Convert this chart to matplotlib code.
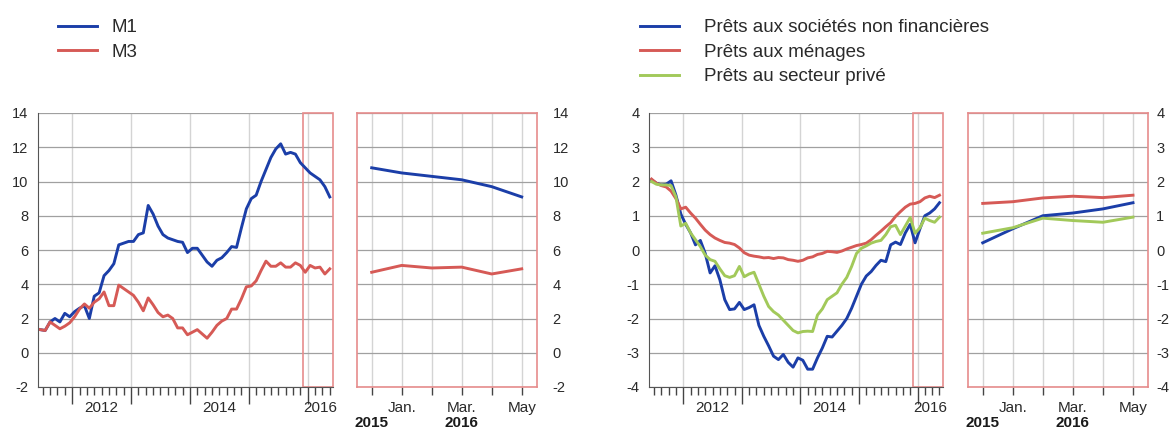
import numpy as np
import pandas as pd
import matplotlib
matplotlib.use("Agg")
import matplotlib.pyplot as plt

plt.rcParams["font.family"] = ["Liberation Sans", "DejaVu Sans"]
plt.rcParams["axes.unicode_minus"] = False

# monthly observations, Jun 2011 - May 2016 (plotted mid-month)
dates = pd.date_range("2011-06-01", "2016-05-01", freq="MS")
t = dates.year + (dates.month - 0.5) / 12

m1 = [1.35, 1.3, 1.8, 2.0, 1.8, 2.3, 2.1, 2.4, 2.6, 2.75,
      2.0, 3.3, 3.5, 4.5, 4.8, 5.2, 6.3, 6.4, 6.5, 6.5,
      6.9, 7.0, 8.6, 8.1, 7.4, 6.9, 6.7, 6.6, 6.5, 6.45,
      5.85, 6.1, 6.1, 5.7, 5.3, 5.05, 5.4, 5.55, 5.85, 6.2,
      6.15, 7.3, 8.4, 9.0, 9.2, 10.0, 10.7, 11.4, 11.9, 12.2,
      11.6, 11.7, 11.6, 11.1, 10.8, 10.5, 10.3, 10.1, 9.7, 9.1]
m3 = [1.35, 1.3, 1.8, 1.6, 1.4, 1.55, 1.75, 2.1, 2.55, 2.85,
      2.6, 2.95, 3.15, 3.55, 2.75, 2.75, 3.95, 3.75, 3.55, 3.35,
      2.95, 2.45, 3.2, 2.8, 2.35, 2.1, 2.2, 2.0, 1.45, 1.45,
      1.05, 1.2, 1.35, 1.1, 0.85, 1.2, 1.6, 1.85, 2.0, 2.55,
      2.55, 3.15, 3.85, 3.9, 4.2, 4.8, 5.35, 5.05, 5.05, 5.25,
      5.0, 5.0, 5.25, 5.1, 4.7, 5.1, 4.95, 5.0, 4.6, 4.9]

loans_nfc = [2.05, 1.95, 1.9, 1.92, 2.02, 1.6, 1.05, 0.75, 0.5, 0.15,
             0.28, -0.1, -0.67, -0.46, -0.87, -1.45, -1.74, -1.72, -1.53, -1.74,
             -1.68, -1.6, -2.2, -2.52, -2.8, -3.1, -3.2, -3.05, -3.28, -3.42,
             -3.15, -3.22, -3.48, -3.48, -3.15, -2.86, -2.52, -2.54, -2.37, -2.2,
             -2.0, -1.7, -1.35, -1.0, -0.76, -0.63, -0.45, -0.3, -0.34, 0.15,
             0.23, 0.16, 0.5, 0.75, 0.21, 0.62, 1.0, 1.08, 1.2, 1.38]
loans_hh = [2.07, 1.95, 1.88, 1.84, 1.72, 1.5, 1.2, 1.25, 1.08, 0.93,
            0.75, 0.58, 0.45, 0.35, 0.28, 0.22, 0.2, 0.16, 0.06, -0.08,
            -0.15, -0.18, -0.2, -0.23, -0.22, -0.25, -0.22, -0.23, -0.28, -0.3,
            -0.33, -0.3, -0.23, -0.2, -0.13, -0.1, -0.04, -0.05, -0.07, -0.03,
            0.03, 0.08, 0.13, 0.16, 0.2, 0.3, 0.43, 0.55, 0.68, 0.8,
            0.98, 1.12, 1.25, 1.34, 1.36, 1.41, 1.52, 1.57, 1.53, 1.6]
loans_priv = [2.0, 1.92, 1.9, 1.9, 1.88, 1.55, 0.7, 0.78, 0.5, 0.3,
              0.1, -0.15, -0.28, -0.33, -0.55, -0.75, -0.8, -0.75, -0.48, -0.78,
              -0.7, -0.65, -1.0, -1.35, -1.65, -1.8, -1.9, -2.05, -2.2, -2.35,
              -2.42, -2.38, -2.37, -2.38, -1.9, -1.72, -1.45, -1.35, -1.25, -1.0,
              -0.8, -0.48, -0.1, 0.05, 0.12, 0.2, 0.25, 0.28, 0.45, 0.68,
              0.72, 0.45, 0.7, 0.95, 0.49, 0.65, 0.93, 0.86, 0.81, 0.96]

zoom_ticklabels = ["", "Jan.", "", "Mar.", "", "May"]
zoom_years = {0: "2015", 3: "2016"}
year_labels = {2012.5: "2012", 2014.5: "2014", 2016.22: "2016"}

BLUE = "#1b3ea8"
RED = "#d65a56"
GREEN = "#a2c95a"
FRAME = "#e68c8c"
TXT = "#2a2a2a"
W, H = 1169, 429
XMIN, XMAX = 2011.42, 2016.43


def add_axes_px(fig, x0, y0, x1, y1):
    return fig.add_axes([x0 / W, 1 - y1 / H, (x1 - x0) / W, (y1 - y0) / H])


def style_main(ax, yticks):
    ax.set_xlim(XMIN, XMAX)
    ax.set_ylim(yticks[0], yticks[-1])
    ax.set_yticks(yticks)
    ax.set_xticks(np.arange(2012, 2017))
    ax.set_xticks([v for v in np.arange(2011.5, 2016.4, 0.125) if v % 1], minor=True)
    ax.set_axisbelow(True)
    ax.grid(axis="y", color="#a0a0a0", lw=0.9)
    ax.grid(axis="x", which="major", color="#d4d4d4", lw=1)
    ax.tick_params(axis="x", which="major", length=12, width=1, color="#444444",
                   labelbottom=False)
    ax.tick_params(axis="x", which="minor", length=6, width=1, color="#444444")
    ax.tick_params(axis="y", length=0, pad=7, labelsize=10.5, labelcolor=TXT)
    for s in ["top", "right"]:
        ax.spines[s].set_visible(False)
    for s in ["left", "bottom"]:
        ax.spines[s].set_color("#555555")
    ax.axvspan(2015.917, XMAX, fill=False, ec=FRAME, lw=1.2, clip_on=False)
    for x, s in year_labels.items():
        ax.text(x, -0.077, s, transform=ax.get_xaxis_transform(), ha="center",
                va="center", fontsize=11, color=TXT)


def style_zoom(ax, yticks, pad):
    ax.set_xlim(-0.5, 5.5)
    ax.set_ylim(yticks[0], yticks[-1])
    ax.set_yticks(yticks)
    ax.set_xticks(range(6))
    ax.set_axisbelow(True)
    ax.grid(axis="y", color="#a0a0a0", lw=0.9)
    ax.grid(axis="x", color="#d4d4d4", lw=1)
    ax.tick_params(axis="x", length=6, width=1, color="#444444", labelbottom=False)
    ax.tick_params(axis="y", left=False, labelleft=False, labelright=True, pad=pad,
                   labelsize=10.5, labelcolor=TXT)
    for lab in ax.get_yticklabels():
        lab.set_horizontalalignment("left")
    for s in ax.spines.values():
        s.set_color(FRAME)
        s.set_linewidth(1.2)
    tr = ax.get_xaxis_transform()
    for i, s in enumerate(zoom_ticklabels):
        if s:
            ax.text(i, -0.077, s, transform=tr, ha="center", va="center",
                    fontsize=11, color=TXT)
    for i, s in zoom_years.items():
        ax.text(i, -0.132, s, transform=tr, ha="center", va="center",
                fontsize=11, fontweight="bold", color="#1a1a1a")


def add_legend(ax, x_px, textpad):
    ax.legend(loc="upper left", bbox_to_anchor=(x_px / W, 1 - 19 / H),
              bbox_transform=fig.transFigure, frameon=False, fontsize=13.5,
              handlelength=2.08, handletextpad=textpad, labelspacing=0.4,
              borderpad=0, borderaxespad=0, labelcolor=TXT)


fig = plt.figure(figsize=(W / 100, H / 100), dpi=100)

# money aggregates
ax1 = add_axes_px(fig, 38, 113, 333, 387)
ax2 = add_axes_px(fig, 356.7, 113, 536.7, 387)
ax1.plot(t, m1, color=BLUE, lw=2.1, label="M1")
ax1.plot(t, m3, color=RED, lw=2.1, label="M3")
ax2.plot(range(6), m1[-6:], color=BLUE, lw=2.1)
ax2.plot(range(6), m3[-6:], color=RED, lw=2.1)
style_main(ax1, np.arange(-2, 15, 2))
style_zoom(ax2, np.arange(-2, 15, 2), pad=8)
add_legend(ax1, 58, 0.75)

# loans
ax3 = add_axes_px(fig, 649.3, 113, 942.7, 387)
ax4 = add_axes_px(fig, 967.7, 113, 1148, 387)
ax3.plot(t, loans_nfc, color=BLUE, lw=2.1, label="Prêts aux sociétés non financières")
ax3.plot(t, loans_hh, color=RED, lw=2.1, label="Prêts aux ménages")
ax3.plot(t, loans_priv, color=GREEN, lw=2.1, label="Prêts au secteur privé")
ax4.plot(range(6), loans_nfc[-6:], color=BLUE, lw=2.1)
ax4.plot(range(6), loans_hh[-6:], color=RED, lw=2.1)
ax4.plot(range(6), loans_priv[-6:], color=GREEN, lw=2.1)
style_main(ax3, np.arange(-4, 5, 1))
style_zoom(ax4, np.arange(-4, 5, 1), pad=2.5)
add_legend(ax3, 640, 1.33)

fig.savefig("out.png", dpi=100)
